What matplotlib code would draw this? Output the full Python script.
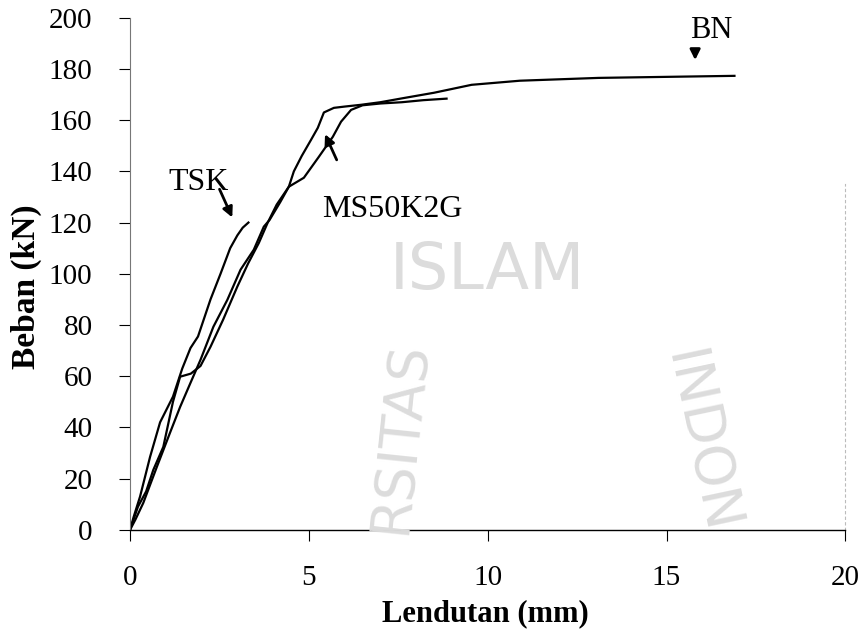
import matplotlib
matplotlib.use("Agg")
import matplotlib.pyplot as plt

# load-deflection data
tsk_x = [0, 0.1, 0.28, 0.56, 0.84, 1.2, 1.46, 1.69, 1.9, 2.25, 2.53, 2.8, 3.0, 3.15, 3.31]
tsk_y = [0, 5, 13, 28.5, 42, 52, 63, 71, 75.5, 90, 100, 110, 115, 118, 120]

bn_x = [0, 0.22, 0.45, 0.65, 0.93, 1.2, 1.4, 1.7, 1.97, 2.25, 2.6, 3.0, 3.3, 3.6, 3.85,
        4.1, 4.44, 4.58, 4.8, 5.06, 5.25, 5.42, 5.7, 6.0, 6.46, 7.0, 7.6, 8.5, 9.55,
        10.9, 13.1, 15.45, 16.9]
bn_y = [0, 9, 15, 23.4, 32.4, 50, 59.8, 61, 64, 71.5, 82, 95, 104, 112, 120,
        127, 134, 140, 146, 152.3, 157, 163, 164.8, 165.3, 166, 167, 168.5, 170.7, 173.8,
        175.4, 176.5, 177, 177.3]

ms_x = [0, 0.15, 0.37, 0.75, 1.12, 1.4, 1.69, 1.97, 2.33, 2.72, 3.09, 3.46, 3.74, 3.9,
        4.2, 4.44, 4.86, 5.28, 5.67, 5.9, 6.18, 6.5, 7.0, 7.6, 8.2, 8.85]
ms_y = [0, 4, 10.5, 24.6, 38, 48, 57.4, 66.4, 79.3, 89.8, 101.6, 109.4, 118.4, 121,
        128, 134, 137.5, 145.7, 153.5, 159.4, 164, 165.8, 166.5, 167, 167.8, 168.4]

x_ticks = [0, 5, 10, 15, 20]
y_ticks = [0, 20, 40, 60, 80, 100, 120, 140, 160, 180, 200]

plt.rcParams['font.family'] = ['Liberation Serif', 'DejaVu Serif']

fig = plt.figure(figsize=(8.67, 6.33), dpi=100)
ax = fig.add_axes([0.15, 0.163, 0.825, 0.809])

# faint watermark like the scan
wm = "#dcdcdc"
ax.text(10.0, 101, "ISLAM", fontsize=46, color=wm, ha="center", va="center",
        family="DejaVu Sans", zorder=0)
fig.text(0.461, 0.31, "RSITAS", fontsize=40, color=wm, rotation=84,
         ha="center", va="center", family="DejaVu Sans", zorder=0)
fig.text(0.807, 0.30, "INDON", fontsize=40, color=wm, rotation=-78,
         ha="center", va="center", family="DejaVu Sans", zorder=0)

ax.plot(tsk_x, tsk_y, color="black", lw=1.6)
ax.plot(bn_x, bn_y, color="black", lw=1.6)
ax.plot(ms_x, ms_y, color="black", lw=1.6)

arrow = dict(arrowstyle="-|>", color="black", lw=2, mutation_scale=15)
ax.annotate("", xy=(2.89, 121), xytext=(2.47, 134), arrowprops=arrow)
ax.annotate("", xy=(5.42, 155.5), xytext=(5.81, 143.5), arrowprops=arrow)
ax.annotate("", xy=(15.8, 182.4), xytext=(15.8, 188.5), arrowprops=arrow)

ax.text(1.06, 135.5, "TSK", fontsize=23, ha="left", va="center")
ax.text(5.37, 125, "MS50K2G", fontsize=23, ha="left", va="center")
ax.text(15.66, 195, "BN", fontsize=22, ha="left", va="center")

ax.set_xlim(0, 20)
ax.set_ylim(0, 200)
ax.set_xticks(x_ticks)
ax.set_yticks(y_ticks)
ax.tick_params(labelsize=21, length=8, width=0.8, direction="out")
ax.tick_params(axis="x", pad=17)
ax.tick_params(axis="y", pad=19)

ax.spines["top"].set_visible(False)
ax.spines["right"].set_color("#bbbbbb")
ax.spines["right"].set_linestyle((0, (2, 3)))
ax.spines["right"].set_bounds(0, 135)
ax.spines["left"].set_color("#777777")
ax.spines["left"].set_linewidth(0.8)
ax.spines["bottom"].set_linewidth(1.0)

ax.set_xlabel("Lendutan (mm)", fontsize=22, fontweight="bold")
ax.xaxis.label.set_va("center")
ax.xaxis.set_label_coords(0.4965, -0.163)
ax.set_ylabel("Beban (kN)", fontsize=24, fontweight="bold")
ax.yaxis.label.set_va("center")
ax.yaxis.set_label_coords(-0.145, 0.475)

plt.savefig("out.png", dpi=100)
